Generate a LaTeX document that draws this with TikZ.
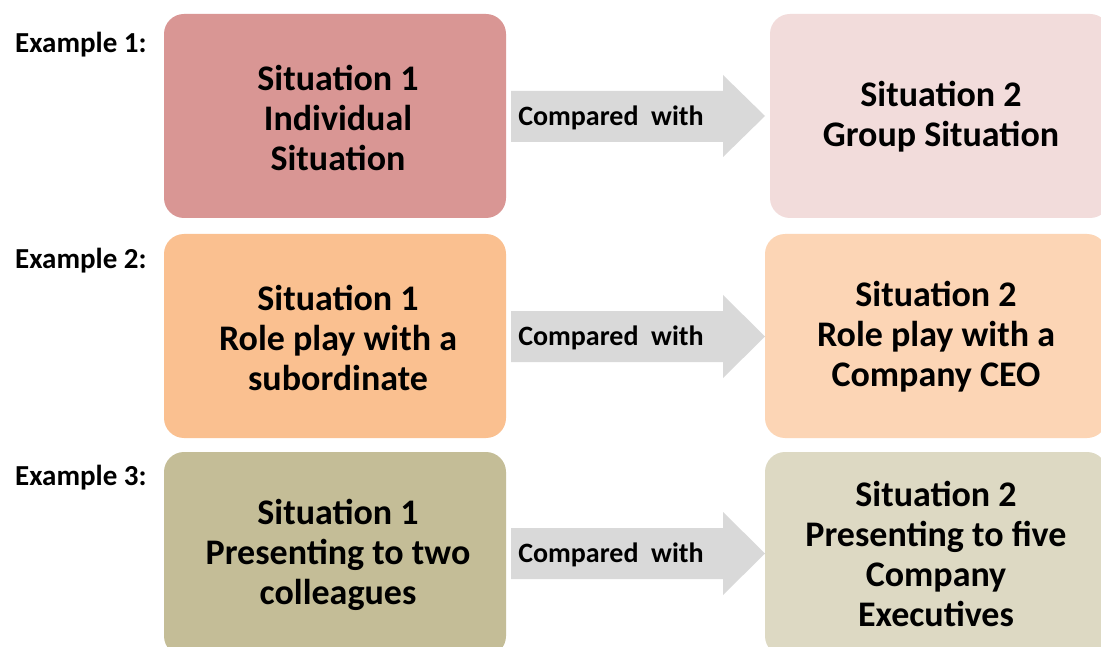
\documentclass[tikz,border=0pt]{standalone}
\usepackage{fontspec}
\setmainfont{Carlito}
\definecolor{boxA}{HTML}{D99694}
\definecolor{boxAl}{HTML}{F2DCDB}
\definecolor{boxB}{HTML}{FAC090}
\definecolor{boxBl}{HTML}{FCD5B5}
\definecolor{boxC}{HTML}{C4BD97}
\definecolor{boxCl}{HTML}{DDD9C3}
\definecolor{arrowgray}{HTML}{D9D9D9}
\begin{document}
\begin{tikzpicture}[x=1pt,y=-1pt,
  sitbox/.style={rounded corners=20pt, inner sep=0pt, minimum height=204pt},
  sittext/.style={inner sep=0pt, align=center,
    font=\bfseries\fontsize{36}{40}\selectfont},
  exlabel/.style={anchor=west, inner sep=0pt, font=\bfseries\fontsize{29}{32}\selectfont},
  cmptext/.style={inner sep=0pt, font=\bfseries\fontsize{28}{32}\selectfont},
  blockarrow/.style={fill=arrowgray}]
\useasboundingbox (0,0) rectangle (1101,647);
\fill[white] (0,0) rectangle (1101,647);
% Row 1
\node[exlabel] (ex1) at (15,45) {Example 1:};
\node[sitbox, fill=boxA, minimum width=342pt] (l1) at (335,116) {};
\node[sittext] (l1t) at (338,118) {Situation 1\\Individual\\Situation};
\node[sitbox, fill=boxAl, minimum width=340pt] (r1) at (940,116) {};
\node[sittext] (r1t) at (941,117) {Situation 2\\Group Situation};
\fill[blockarrow] (511,91) -- (723,91) -- (723,75) -- (765,116) -- (723,157) -- (723,142) -- (511,142) -- cycle;
\node[cmptext] (c1) at (611,118) {Compared\ \ with};
% Row 2
\node[exlabel] (ex2) at (15,261) {Example 2:};
\node[sitbox, fill=boxB, minimum width=342pt] (l2) at (335,336) {};
\node[sittext] (l2t) at (338,338) {Situation 1\\Role play with a\\subordinate};
\node[sitbox, fill=boxBl, minimum width=342pt] (r2) at (936,336) {};
\node[sittext] (r2t) at (936,337) {Situation 2\\Role play with a\\Company CEO};
\fill[blockarrow] (511,311) -- (723,311) -- (723,295) -- (765,336.5) -- (723,378) -- (723,362) -- (511,362) -- cycle;
\node[cmptext] (c2) at (611,338) {Compared\ \ with};
% Row 3
\node[exlabel] (ex3) at (15,478) {Example 3:};
\node[sitbox, fill=boxC, minimum width=342pt] (l3) at (335,554) {};
\node[sittext] (l3t) at (338,555) {Situation 1\\Presenting to two\\colleagues};
\node[sitbox, fill=boxCl, minimum width=342pt] (r3) at (936,554) {};
\node[sittext] (r3t) at (936,554) {Situation 2\\Presenting to five\\Company\\Executives};
\fill[blockarrow] (511,528) -- (723,528) -- (723,512) -- (765,553.5) -- (723,595) -- (723,579) -- (511,579) -- cycle;
\node[cmptext] (c3) at (611,555) {Compared\ \ with};
\end{tikzpicture}
\end{document}
